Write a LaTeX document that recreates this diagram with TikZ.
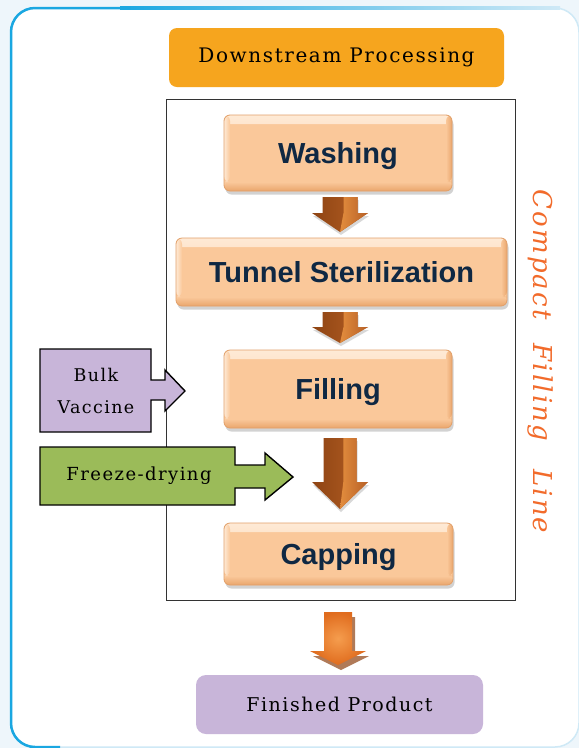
\documentclass[tikz,border=0pt]{standalone}
\usepackage{fontspec}
\setmainfont{DejaVu Serif}
\newfontfamily\slab[LetterSpace=8]{DejaVu Serif}
\newfontfamily\boxfont{Liberation Sans}
\usetikzlibrary{shadows,calc}
\definecolor{outerbg}{HTML}{EEF6FB}
\definecolor{frameblue}{HTML}{1AA7E1}
\definecolor{framelight}{HTML}{CFE9F6}
\definecolor{hdrorange}{HTML}{F6A51E}
\definecolor{peach}{HTML}{FAC89A}
\definecolor{peachtop}{HTML}{FEEAD6}
\definecolor{peachbot}{HTML}{E9A56C}
\definecolor{peachedge}{HTML}{E2A06A}
\definecolor{navy}{HTML}{0F2843}
\definecolor{lav}{HTML}{C8B5D9}
\definecolor{leaf}{HTML}{9BBB59}
\definecolor{cflorange}{HTML}{F26B2B}
\definecolor{arrdark}{HTML}{8E4413}
\definecolor{arrmid}{HTML}{B65F25}
\definecolor{arrlight}{HTML}{E38D3E}
\definecolor{orA}{HTML}{F59D4E}
\definecolor{orB}{HTML}{E06C1E}
\definecolor{orshadow}{HTML}{B07A58}
\newcommand\brownarrow[6]{% x, shaft top, head base, tip, shaft half, head half
  \path[drop shadow={shadow xshift=1pt,shadow yshift=-3pt,opacity=0.3},
        left color=arrdark, right color=arrmid]
    (#1-#5,#2) -- (#1+#5,#2) -- (#1+#5,#3) -- (#1+#6,#3) -- (#1,#4)
    -- (#1-#6,#3) -- (#1-#5,#3) -- cycle;
  \shade[left color=arrlight, right color=arrmid]
    (#1+0.2*#5,#2) -- (#1+#5,#2) -- (#1+#5,#3) -- (#1+#6,#3) -- (#1,#4)
    -- (#1+0.2*#5,#3) -- cycle;
}
\begin{document}
\begin{tikzpicture}[x=1pt,y=-1pt,
  stepbox/.style={rectangle, rounded corners=6pt, draw=peachedge, line width=0.8pt,
    fill=peach, text=navy, text depth=0pt,
    font=\boxfont\bfseries\fontsize{29}{34}\selectfont, inner sep=0pt,
    drop shadow={shadow xshift=1.5pt, shadow yshift=-3.5pt, opacity=0.35},
    path picture={
      \shade[top color=peachtop, bottom color=peach]
        (path picture bounding box.north west) rectangle ([yshift=-9pt]path picture bounding box.north east);
      \shade[top color=peach, bottom color=peachbot]
        ([yshift=9pt]path picture bounding box.south west) rectangle (path picture bounding box.south east);
      \shade[left color=peachtop, right color=peach]
        (path picture bounding box.north west) rectangle ([xshift=6pt,yshift=9pt]path picture bounding box.south west);
      \shade[left color=peach, right color=peachbot]
        ([xshift=-6pt]path picture bounding box.north east) rectangle ([yshift=9pt]path picture bounding box.south east);
    }},
  serifbox/.style={rectangle, inner sep=0pt, text=black},
  sidearrow/.style={draw=black, line width=1.4pt, line join=miter}
]
\useasboundingbox (0,0) rectangle (579,748);
% background and frame
\fill[outerbg] (0,0) rectangle (579,748);
\path[fill=white, draw=framelight, line width=1.5pt, rounded corners=24pt] (11,8) rectangle (579,747);
\shade[left color=frameblue, right color=framelight] (120,6.8) rectangle (560,9.2);
\draw[frameblue, line width=2.5pt, rounded corners=24pt] (130,8) -- (11,8) -- (11,747) -- (60,747);
% header
\node[serifbox, fill=hdrorange, rounded corners=8pt, minimum width=335pt, minimum height=59pt,
  font=\slab\fontsize{20}{24}\selectfont] (ds) at (336.5,57.5) {Downstream Processing};
% inner frame
\node[draw=black!80, line width=1pt, minimum width=349pt, minimum height=501pt, inner sep=0pt] (line) at (340.5,349.5) {};
% steps
\node[stepbox, minimum width=228pt, minimum height=76pt] (wash) at (338,153) {Washing};
\node[stepbox, minimum width=331pt, minimum height=68pt] (tun) at (341.5,272) {Tunnel Sterilization};
\node[stepbox, minimum width=228pt, minimum height=78pt] (fill) at (338,389) {Filling};
\node[stepbox, minimum width=229pt, minimum height=62pt] (cap) at (338.5,554) {Capping};
% brown arrows
\brownarrow{340}{197}{213}{232}{17.5}{28}
\brownarrow{340}{312}{327}{343}{17.5}{28}
\brownarrow{340}{438}{482}{509}{16.5}{28}
% final orange arrow
\fill[orshadow] (341-14,617) -- (341+14,617) -- (341+14,656) -- (341+28,656) -- (341,670) -- (341-28,656) -- (341-14,656) -- cycle;
\shade[inner color=orA, outer color=orB] (338-14,612) -- (338+14,612) -- (338+14,651) -- (338+28,651) -- (338,665) -- (338-28,651) -- (338-14,651) -- cycle;
\node[serifbox, fill=lav, rounded corners=10pt, minimum width=287pt, minimum height=59pt,
  font=\slab\fontsize{19}{24}\selectfont] (fin) at (339.5,704.5) {Finished Product};
% side inputs
\path[sidearrow, fill=lav] (40,349) -- (151,349) -- (151,380) -- (165,380) -- (165,370) -- (185,391)
  -- (165,411) -- (165,400) -- (151,400) -- (151,432) -- (40,432) -- cycle;
\node[serifbox, align=center, font=\slab\fontsize{17.5}{32}\selectfont] (bulk) at (96,391) {Bulk\\Vaccine};
\path[sidearrow, fill=leaf] (40,447) -- (235,447) -- (235,465) -- (265,465) -- (265,453) -- (293,477)
  -- (265,500) -- (265,488) -- (235,488) -- (235,505) -- (40,505) -- cycle;
\node[serifbox, font=\slab\fontsize{18}{22}\selectfont] (freeze) at (139,476) {Freeze-drying};
% vertical label
\node[rotate=-90, text=cflorange, inner sep=0pt, font=\slab\itshape\fontsize{26}{30}\selectfont] (cfl) at (540,361.5)
  {Compact\hspace{14pt} Filling\hspace{18pt} Line};
\end{tikzpicture}
\end{document}
